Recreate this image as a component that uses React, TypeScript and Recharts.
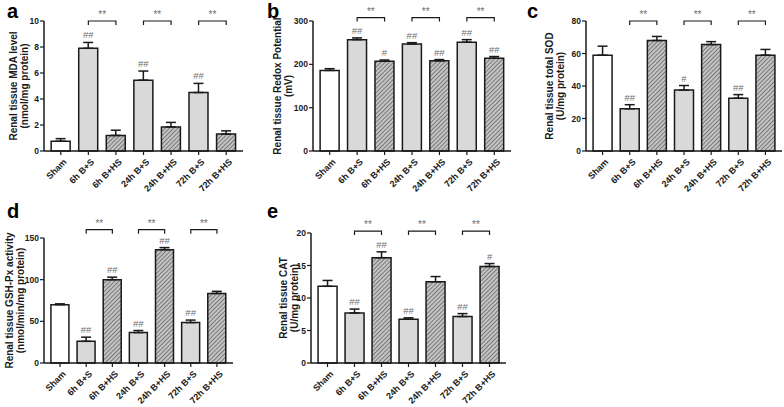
import React from "react";
import { BarChart, Bar, XAxis, YAxis, ErrorBar, Cell, LabelList, ReferenceLine } from "recharts";

const groups = ["Sham", "6h B+S", "6h B+HS", "24h B+S", "24h B+HS", "72h B+S", "72h B+HS"];

const mdaMean = [0.75, 7.9, 1.2, 5.45, 1.85, 4.5, 1.3];
const mdaSem = [0.2, 0.45, 0.4, 0.7, 0.35, 0.7, 0.25];
const mdaSig = ["", "##", "", "##", "", "##", ""];

const redoxMean = [186, 257, 207, 247, 208, 251, 214];
const redoxSem = [4, 4, 3, 3, 3, 6, 4];
const redoxSig = ["", "##", "#", "##", "##", "##", "##"];

const sodMean = [59, 26, 68, 37.5, 65.5, 32.5, 59];
const sodSem = [5.5, 2.5, 2.5, 2.8, 1.8, 2.2, 3.5];
const sodSig = ["", "##", "", "#", "", "##", ""];

const gshMean = [70, 26, 100, 36.5, 136, 48.5, 83.5];
const gshSem = [1, 5, 3, 2.5, 2.5, 3, 2.5];
const gshSig = ["", "##", "##", "##", "##", "##", ""];

const catMean = [11.8, 7.7, 16.2, 6.75, 12.5, 7.15, 14.85];
const catSem = [0.9, 0.6, 0.9, 0.2, 0.8, 0.45, 0.45];
const catSig = ["", "##", "##", "##", "", "##", "#"];

// pairs compared with ** brackets
const pairs = [
  ["6h B+S", "6h B+HS"],
  ["24h B+S", "24h B+HS"],
  ["72h B+S", "72h B+HS"],
];

const FONT = "'Liberation Sans', Arial, sans-serif";
const INK = "#1a1a1a";

function rows(mean: number[], sem: number[], sig: string[]) {
  return groups.map((g, i) => ({ name: g, mean: mean[i], err: [0, sem[i]], sem: sem[i], sig: sig[i] }));
}

function fillFor(name: string, id: string) {
  if (name.includes("B+HS")) return `url(#hatch-${id})`;
  if (name.includes("B+S")) return "#d9d9d9";
  return "#ffffff";
}

const XTick = (props: any) => {
  const { x, y, payload } = props;
  return (
    <g transform={`translate(${x + 2},${y + 1})`}>
      <text
        x={0}
        y={0}
        dy="0.7em"
        textAnchor="end"
        transform="rotate(-45)"
        fontSize={9}
        fontWeight="bold"
        fontFamily={FONT}
        fill={INK}
      >
        {payload.value}
      </text>
    </g>
  );
};

const Bracket = (props: any) => {
  const { x1, y1, x2 } = props;
  if (x1 == null || y1 == null) return null;
  return (
    <g>
      <path d={`M${x1},${y1 + 4}V${y1}H${x2}V${y1 + 4}`} stroke={INK} strokeWidth={1.2} fill="none" />
      <text x={(x1 + x2) / 2} y={y1 - 3} textAnchor="middle" fontSize={10} fontFamily={FONT} fill="#6e6e6e">
        **
      </text>
    </g>
  );
};

type PanelProps = {
  id: string;
  letter: string;
  title: string[];
  mean: number[];
  sem: number[];
  sig: string[];
  max: number;
  ticks: number[];
  bracketY: number;
  left: number;
  top: number;
  axisX: number;
  plotW: number;
  plotTop: number;
  plotH: number;
  titleX: number;
};

function Panel(p: PanelProps) {
  const data = rows(p.mean, p.sem, p.sig);

  const SigLabel = (lp: any) => {
    const vb = lp.viewBox || lp;
    const { x, y, width, height } = vb;
    const d = data[lp.index];
    if (!d || !d.sig) return null;
    const errPx = d.mean ? (height * d.sem) / d.mean : 0;
    return (
      <text x={x + width / 2} y={y - errPx - 4} textAnchor="middle" fontSize={9.5} fontFamily={FONT} fill="#6e6e6e">
        {d.sig}
      </text>
    );
  };

  const YTitle = (lp: any) => {
    const vb = lp.viewBox;
    const cy = vb.y + vb.height / 2;
    return (
      <text
        transform={`translate(${p.titleX},${cy}) rotate(-90)`}
        textAnchor="middle"
        fontSize={10}
        fontWeight="bold"
        fontFamily={FONT}
        fill={INK}
      >
        <tspan x={0} dy={0}>{p.title[0]}</tspan>
        <tspan x={0} dy={11}>{p.title[1]}</tspan>
      </text>
    );
  };

  const width = p.axisX + p.plotW + 4;
  const height = p.plotTop + p.plotH + 50;

  return (
    <div style={{ position: "absolute", left: p.left, top: p.top, width, height }}>
      <div
        style={{
          position: "absolute",
          left: 7,
          top: 0,
          fontFamily: FONT,
          fontWeight: "bold",
          fontSize: 20,
          lineHeight: "normal",
          color: "#000",
        }}
      >
        {p.letter}
      </div>
      <BarChart
        width={width}
        height={height}
        data={data}
        margin={{ top: p.plotTop, right: 4, bottom: 0, left: 0 }}
        barCategoryGap="15%"
      >
        <defs>
          <pattern
            id={`hatch-${p.id}`}
            patternUnits="userSpaceOnUse"
            width={3}
            height={3}
            patternTransform="rotate(45)"
          >
            <rect width={3} height={3} fill="#c4c4c4" />
            <line x1={0} y1={0} x2={0} y2={3} stroke="#3a3a3a" strokeWidth={1.1} />
          </pattern>
        </defs>
        <XAxis
          dataKey="name"
          interval={0}
          height={50}
          padding={{ left: 3, right: 3 }}
          tick={<XTick />}
          tickSize={4}
          axisLine={{ stroke: INK, strokeWidth: 1.5 }}
          tickLine={{ stroke: INK, strokeWidth: 1.2 }}
        />
        <YAxis
          width={p.axisX}
          domain={[0, p.max]}
          ticks={p.ticks}
          interval={0}
          tickSize={4}
          tickMargin={1}
          tick={{ fontSize: 8.5, fontWeight: "bold", fontFamily: FONT, fill: INK }}
          axisLine={{ stroke: INK, strokeWidth: 1.5 }}
          tickLine={{ stroke: INK, strokeWidth: 1.2 }}
          label={{ content: YTitle }}
        />
        <Bar dataKey="mean" isAnimationActive={false} stroke={INK} strokeWidth={1.5}>
          {data.map((d) => (
            <Cell key={d.name} fill={fillFor(d.name, p.id)} />
          ))}
          <ErrorBar dataKey="err" width={5} stroke={INK} strokeWidth={1.5} direction="y" />
          <LabelList dataKey="sig" content={SigLabel} />
        </Bar>
        {pairs.map(([a, b]) => (
          <ReferenceLine
            key={a}
            segment={[
              { x: a, y: p.bracketY },
              { x: b, y: p.bracketY },
            ]}
            ifOverflow="visible"
            shape={<Bracket />}
          />
        ))}
      </BarChart>
    </div>
  );
}

export default function App() {
  return (
    <div style={{ position: "absolute", left: 0, top: 0, width: 784, height: 407, background: "#fff", overflow: "hidden" }}>
      <Panel id="a" letter="a" title={["Renal tissue MDA level", "(nmol/mg protein)"]}
        mean={mdaMean} sem={mdaSem} sig={mdaSig} max={10} ticks={[0, 2, 4, 6, 8, 10]} bracketY={10}
        left={0} top={0} axisX={44} plotW={199} plotTop={21} plotH={130} titleX={17} />
      <Panel id="b" letter="b" title={["Renal tissue Redox Potential", "(mV)"]}
        mean={redoxMean} sem={redoxSem} sig={redoxSig} max={300} ticks={[0, 100, 200, 300]} bracketY={308}
        left={260} top={0} axisX={53} plotW={198} plotTop={21} plotH={130} titleX={21} />
      <Panel id="c" letter="c" title={["Renal tissue total SOD", "(U/mg protein)"]}
        mean={sodMean} sem={sodSem} sig={sodSig} max={80} ticks={[0, 20, 40, 60, 80]} bracketY={80}
        left={520} top={0} axisX={66} plotW={196} plotTop={21} plotH={130} titleX={33} />
      <Panel id="d" letter="d" title={["Renal tissue GSH-Px activity", "(nmol/min/mg protein)"]}
        mean={gshMean} sem={gshSem} sig={gshSig} max={150} ticks={[0, 50, 100, 150]} bracketY={160}
        left={0} top={200} axisX={44} plotW={189} plotTop={38} plotH={125} titleX={13} />
      <Panel id="e" letter="e" title={["Renal tissue CAT", "(U/mg protein)"]}
        mean={catMean} sem={catSem} sig={catSig} max={20} ticks={[0, 5, 10, 15, 20]} bracketY={20.3}
        left={260} top={200} axisX={51} plotW={195} plotTop={33} plotH={130} titleX={27} />
    </div>
  );
}
